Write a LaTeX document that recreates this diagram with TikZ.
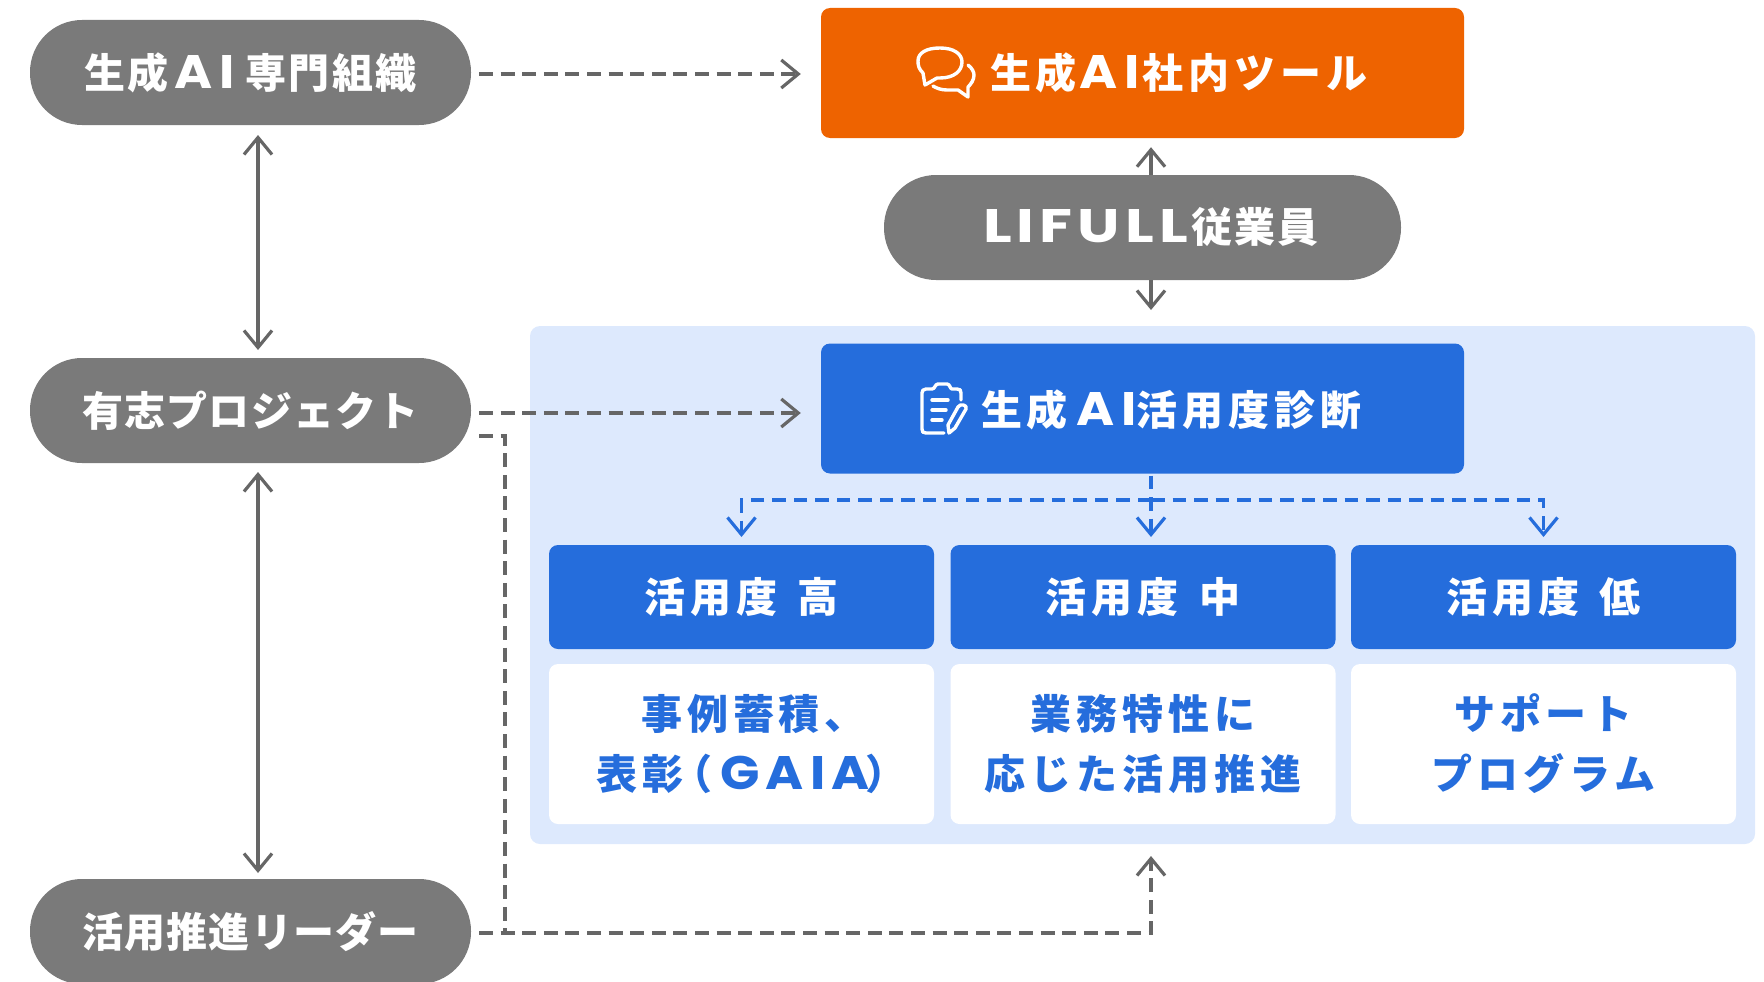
\documentclass[tikz,border=0pt]{standalone}
\usepackage{fontspec}
\setmainfont{Noto Sans CJK JP Black}[LetterSpace=6]
\newfontfamily\jpwide{Noto Sans CJK JP Black}[LetterSpace=12]
\newfontfamily\jptight{Noto Sans CJK JP Black}[LetterSpace=3]
\newfontfamily\latfont{Poppins}[LetterSpace=13,FakeStretch=1.1]
\newfontfamily\latwide{Poppins}[LetterSpace=11,FakeStretch=1.28]
\newcommand{\latn}[1]{{\fontsize{47}{60}\selectfont\latfont\bfseries #1}}
\newcommand{\latw}[1]{{\fontsize{47}{60}\selectfont\latwide\bfseries #1}}
\usetikzlibrary{arrows.meta}
\definecolor{pillgray}{HTML}{7A7A7A}
\definecolor{linegray}{HTML}{666666}
\definecolor{orangebox}{HTML}{EE6300}
\definecolor{bluebox}{HTML}{256DDC}
\definecolor{panelblue}{HTML}{DDE9FD}
\tikzset{
  lbl/.style={font=\fontsize{41}{60}\selectfont,inner sep=0pt,outer sep=0pt,align=center},
  wlbl/.style={font=\fontsize{41}{60}\selectfont\jpwide,inner sep=0pt,outer sep=0pt,align=center},
  tlbl/.style={font=\fontsize{41}{60}\selectfont\jptight},
  pill/.style={lbl,fill=pillgray,text=white,rounded corners=52pt,minimum width=441pt,minimum height=105pt},
  bigbox/.style={fill=#1,rounded corners=9pt,inner sep=0pt,minimum width=643pt,minimum height=130pt},
  lvlbox/.style={wlbl,fill=bluebox,text=white,rounded corners=9pt,minimum width=385pt,minimum height=104pt},
  resbox/.style={wlbl,fill=white,text=bluebox,rounded corners=9pt,minimum width=385pt,minimum height=160pt},
  tiplbl/.style={wlbl,text=white},
  conn/.style={line width=3.3pt,draw=linegray},
  gdash/.style={conn,dash pattern=on 14pt off 7.6pt},
  bdash/.style={line width=3.4pt,draw=bluebox,dash pattern=on 13.5pt off 8pt},
  icon/.style={draw=white,line width=3.4pt,line join=round,line cap=round}
}
\begin{document}
\begin{tikzpicture}[x=1pt,y=-1pt,>={Straight Barb[length=17pt,width=28pt,line width=3.2pt]}]
\clip (0,0) rectangle (1764,982);
\fill[panelblue,rounded corners=10pt] (530,326) rectangle (1755,844);
\node[pill] (p1) at (250.5,72.5) {生成\kern6pt\latn{AI}\kern11pt 専門組織};
\node[pill,tlbl] (p2) at (250.5,410.5) {有志プロジェクト};
\node[pill,tlbl] (p3) at (250.5,931.5) {活用推進リーダー};
\node[pill,minimum width=517pt] (emp) at (1142.5,227.5) {\kern17pt\raisebox{-1.5pt}{\latw{LIFULL}\kern3pt 従業員}};
\node[bigbox=orangebox] (tool) at (1142.5,73) {};
\node[bigbox=bluebox] (diag) at (1142.5,408.5) {};
\node[tiplbl,anchor=west] (tooltxt) at (990,73) {生成\kern3pt\latn{AI}\kern3pt 社内ツール};
\node[tiplbl,anchor=west] (diagtxt) at (981,410) {生成\kern9pt\latn{AI}活用度診断};
\node[lvlbox] (hi) at (741.5,597) {活用度 \kern6pt 高};
\node[lvlbox] (mid) at (1143,597) {活用度 \kern6pt 中};
\node[lvlbox] (lo) at (1543.5,597) {活用度 \kern6pt 低};
\node[resbox] (rhi) at (741.5,744) {\kern24pt 事例蓄積、\\表彰\kern-12pt（\kern8pt\latn{GAIA}\kern-4pt）\kern-20pt};
\node[resbox] (rmid) at (1143,744) {業務特性に\\応じた活用推進};
\node[resbox] (rlo) at (1543.5,744) {サポート\\プログラム};
% chat icon
\draw[icon] (925,85) -- (923,73) .. controls (919,69) and (918,66) .. (918,61)
  .. controls (918,53) and (926,48) .. (940,48) .. controls (954,48) and (962,54) .. (962,62)
  .. controls (962,71) and (954,78) .. (940,78) -- (937,78) -- cycle;
\draw[icon] (968,65) .. controls (972,68) and (974,72) .. (974,75) .. controls (974,80) and (971,84) .. (968,87)
  -- (968,97) -- (958,90) -- (947,90) .. controls (941,90) and (936,88) .. (933,86);
% clipboard icon
\draw[icon] (961,400) -- (961,393) .. controls (961,390) and (960,389) .. (957,389) -- (952,389)
  .. controls (950,389) and (950,384) .. (947,384) -- (938,384) .. controls (935,384) and (935,389) .. (932,389)
  -- (926,389) .. controls (923,389) and (922,391) .. (922,393)
  -- (922,429) .. controls (922,432) and (923,433) .. (926,433) -- (944,433);
\draw[icon] (932,400) -- (948,400) (932,410) -- (946,410) (932,420) -- (942,420);
\draw[icon] (949,433) -- (948,425) -- (958,407) .. controls (960,403) and (968,405) .. (966,409) -- (955,428) -- cycle;
% connectors
\draw[gdash,->,shorten <=8pt,shorten >=20pt] ([yshift=-1.5pt]p1.east) -- ([yshift=-1pt]tool.west);
\draw[gdash,->,shorten <=8pt,shorten >=20pt] ([yshift=-2.5pt]p2.east) -- ([yshift=-4.5pt]diag.west);
\draw[conn,<->,shorten <=10pt,shorten >=8pt] ([xshift=7.5pt]p1.south) -- ([xshift=7.5pt]p2.north);
\draw[conn,<->,shorten <=9pt,shorten >=6pt] ([xshift=7.5pt]p2.south) -- ([xshift=7.5pt]p3.north);
\draw[conn,->,shorten >=9pt] ([xshift=8.5pt]emp.north) -- ([xshift=8.5pt]emp.north |- tool.south);
\draw[conn,->] ([xshift=8.5pt]emp.south) -- ++(0,30);
\coordinate (j1) at (505,436);
\coordinate (j2) at (505,933);
\coordinate (j3) at (1151,933);
\coordinate (j4) at (1151,856);
\draw[gdash,shorten <=8pt] (p2.east |- j1) -- (j1) -- (j2);
\draw[gdash,->,shorten <=8pt] (p3.east |- j2) -- (j3) -- (j4);
\coordinate (b0) at (1151,500);
\draw[bdash,->,shorten <=2pt,shorten >=8pt] ([xshift=8.5pt]diag.south) -- ([xshift=8pt]mid.north);
\draw[bdash,->,shorten >=8pt] (b0) -| (hi.north);
\draw[bdash,->,shorten >=8pt] (b0) -| (lo.north);
\end{tikzpicture}
\end{document}
